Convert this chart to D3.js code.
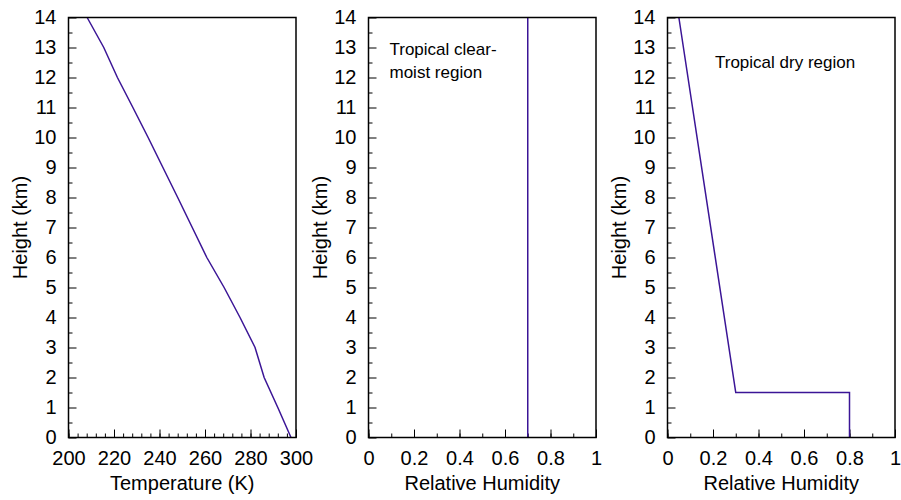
<!DOCTYPE html>
<html>
<head>
<meta charset="utf-8">
<script src="https://cdn.jsdelivr.net/npm/d3@7"></script>
<style>
  html, body { margin: 0; padding: 0; background: #fff; }
  svg { display: block; }
  text { font-family: "Liberation Sans", Arial, sans-serif; fill: #000; }
</style>
</head>
<body>
<svg id="chart" width="901" height="500"></svg>
<script>
// ---- data ----
const heightTicks = [0,1,2,3,4,5,6,7,8,9,10,11,12,13,14];
const tempTicks = [200,220,240,260,280,300];
const rhTicks = [0,0.2,0.4,0.6,0.8,1];

const tempHeights = [0,1,2,3,4,5,6,7,8,9,10,11,12,13,14];
const temperature = [297.8,292,286,282,275.4,268.4,260.8,254.4,248,241.5,235,228.3,221.5,215.5,208.2];

const moistHeights = [0,14];
const moistRH = [0.7,0.7];

const dryHeights = [0,1.5,1.5,14];
const dryRH = [0.8,0.8,0.3,0.05];

const panelLabels = ["Temperature (K)","Relative Humidity","Relative Humidity"];
const yLabel = "Height (km)";
const notes = [["Tropical clear-","moist region"],["Tropical dry region"]];

// ---- layout ----
const svg = d3.select("#chart");
const plotTop = 17.5, plotBottom = 437.5, pw = 227.5;
const lefts = [68.5, 368.5, 667.5];
const lineColor = "#3b1596";
const fs = 20;

const y = d3.scaleLinear().domain([0,14]).range([plotBottom, plotTop]);

function panel(i, xDomain, majorTicks, minorTicks, fmt, xs, ys) {
  const x0 = lefts[i];
  const x = d3.scaleLinear().domain(xDomain).range([x0, x0 + pw]);
  const g = svg.append("g");

  const xMinor = g.append("g").attr("transform", `translate(0,${plotBottom})`)
    .call(d3.axisBottom(x).tickValues(minorTicks).tickSize(-4).tickFormat(""));
  const xMajor = g.append("g").attr("transform", `translate(0,${plotBottom})`)
    .call(d3.axisBottom(x).tickValues(majorTicks).tickSize(-8).tickPadding(13.5).tickFormat(fmt));
  const yMinor = g.append("g").attr("transform", `translate(${x0},0)`)
    .call(d3.axisLeft(y).tickValues(d3.range(0.5, 14, 1)).tickSize(-4).tickFormat(""));
  const yMajor = g.append("g").attr("transform", `translate(${x0},0)`)
    .call(d3.axisLeft(y).tickValues(heightTicks).tickSize(-8).tickPadding(12).tickFormat(d => String(d)));

  [xMinor, xMajor, yMinor, yMajor].forEach(a => {
    a.select(".domain").remove();
    a.selectAll("line").attr("stroke", "#000").attr("stroke-width", 1);
    a.selectAll("text").attr("font-size", fs).attr("font-family", '"Liberation Sans", Arial, sans-serif').attr("fill", "#000");
  });

  const pts = xs.map((v, k) => [v, ys[k]]);
  g.append("path")
    .datum(pts)
    .attr("fill", "none")
    .attr("stroke", lineColor)
    .attr("stroke-width", 1.5)
    .attr("d", d3.line().x(d => x(d[0])).y(d => y(d[1])));

  g.append("rect")
    .attr("x", x0).attr("y", plotTop).attr("width", pw).attr("height", plotBottom - plotTop)
    .attr("fill", "none").attr("stroke", "#000").attr("stroke-width", 1.5);

  g.append("text")
    .attr("x", x0 + pw / 2).attr("y", 490)
    .attr("text-anchor", "middle").attr("font-size", fs)
    .text(panelLabels[i]);
  g.append("text")
    .attr("transform", `translate(${x0 - 41.5},${(plotTop + plotBottom) / 2}) rotate(-90)`)
    .attr("text-anchor", "middle").attr("font-size", fs)
    .text(yLabel);
  return g;
}

const g1 = panel(0, [200,300], tempTicks, d3.range(200, 301, 4), d => String(d), temperature, tempHeights);
const g2 = panel(1, [0,1], rhTicks, d3.range(0, 11, 1).map(k => k / 10), d => String(d), moistRH, moistHeights);
const g3 = panel(2, [0,1], rhTicks, d3.range(0, 11, 1).map(k => k / 10), d => String(d), dryRH, dryHeights);

g2.append("text").attr("x", 389.5).attr("y", 55).attr("font-size", 17).text(notes[0][0]);
g2.append("text").attr("x", 389.5).attr("y", 78).attr("font-size", 17).text(notes[0][1]);
g3.append("text").attr("x", 715).attr("y", 68).attr("font-size", 17).text(notes[1][0]);
</script>
</body>
</html>
